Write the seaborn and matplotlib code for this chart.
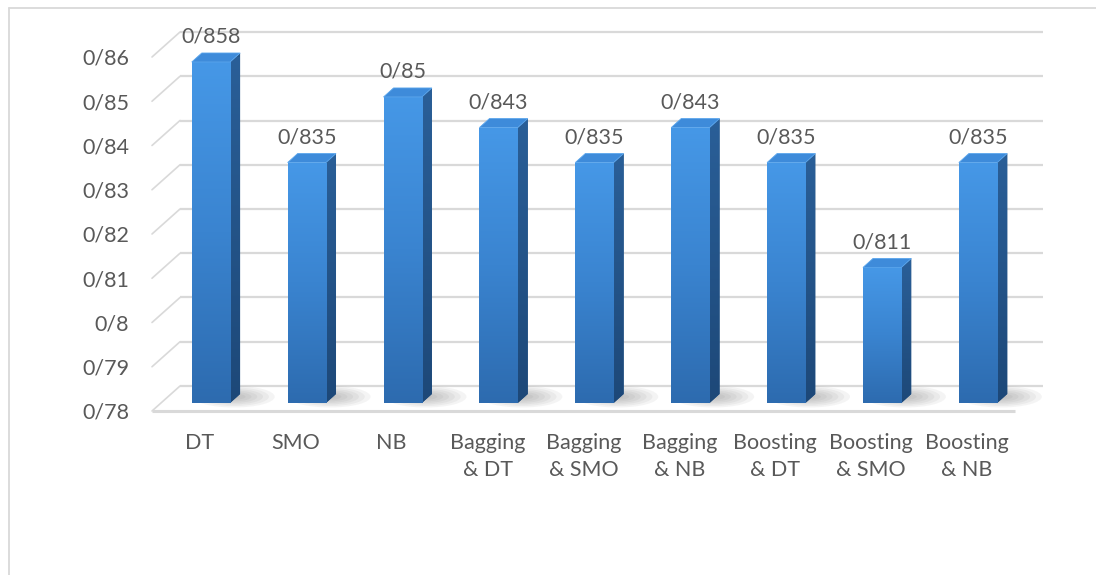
import numpy as np
import matplotlib
matplotlib.use("Agg")
import matplotlib.pyplot as plt
import seaborn as sns
from matplotlib.transforms import Affine2D
from matplotlib.patches import Polygon, Ellipse
from matplotlib.colors import LinearSegmentedColormap
from matplotlib.lines import Line2D

# ---- data ----
categories = ["DT", "SMO", "NB", "Bagging\n& DT", "Bagging\n& SMO", "Bagging\n& NB",
              "Boosting\n& DT", "Boosting\n& SMO", "Boosting\n& NB"]
values = [0.858, 0.835, 0.85, 0.843, 0.835, 0.843, 0.835, 0.811, 0.835]
y_ticks = [0.78, 0.79, 0.80, 0.81, 0.82, 0.83, 0.84, 0.85, 0.86]
y_tick_labels = ["0/78", "0/79", "0/8", "0/81", "0/82", "0/83", "0/84", "0/85", "0/86"]

BASE = 0.78
TEXT = "#595959"
GRID = "#D9D9D9"

sns.set_style("white")
plt.rcParams["font.family"] = ["Lato", "DejaVu Sans"]

W, H = 1096, 575
fig = plt.figure(figsize=(W / 100, H / 100), dpi=100)
fig.patch.set_facecolor("white")
ax = fig.add_axes([152 / W, (H - 411) / H, 863 / W, 354 / H])

sns.barplot(x=categories, y=values, width=0.4, ax=ax, color="#3A85D3",
            saturation=1, edgecolor="none")
ax.set_xlim(-0.5, 8.5)
ax.set_ylim(BASE, 0.86)

px_x = 863 / 9.0          # pixels per category unit
px_y = 354 / 0.08         # pixels per value unit

# bars stand half-way into the floor depth, slightly foreshortened
s_bar = 0.988
bdx, bdy = 11 / px_x, 8 / px_y
bar_trans = (Affine2D().translate(0, -BASE).scale(1, s_bar)
             .translate(bdx, BASE + bdy) + ax.transData)

# depth of the chart box (walls / floor)
ox, oy = 28 / px_x, 25 / px_y
# depth of each column
ddx, ddy = 10 / px_x, 9 / (px_y * s_bar)

x_lo, x_hi = -0.5, 8.5

# floor
floor = Polygon([(x_lo, BASE), (x_hi, BASE), (x_hi + ox, BASE + oy), (x_lo + ox, BASE + oy)],
                closed=True, facecolor="white", edgecolor="none", zorder=0.5,
                clip_on=False)
ax.add_patch(floor)
ax.add_line(Line2D([x_lo, x_hi], [BASE, BASE], color=GRID, lw=2.2, zorder=0.6,
                   clip_on=False, solid_capstyle="butt"))

# back-wall gridlines and left-wall diagonals
for t in y_ticks:
    ax.add_line(Line2D([x_lo + ox, x_hi + ox], [t + oy, t + oy], color=GRID, lw=1.6,
                       zorder=0.7, clip_on=False, solid_capstyle="butt"))
    ax.add_line(Line2D([x_lo, x_lo + ox], [t, t + oy], color=GRID, lw=1.2,
                       zorder=0.7, clip_on=False))

front_cmap = LinearSegmentedColormap.from_list("front", ["#2D6BAF", "#3A84D0", "#4698E7"])
side_cmap = LinearSegmentedColormap.from_list("side", ["#1D4878", "#2A5F98"])
grad = np.linspace(0, 1, 256).reshape(-1, 1)

bars = list(ax.patches)
for p, v in zip(bars, values):
    p.set_y(BASE)
    p.set_height(v - BASE)
    p.set_transform(bar_trans)
    p.set_clip_on(False)
    p.set_zorder(3)
    x0 = p.get_x()
    x1 = x0 + p.get_width()
    top = BASE + p.get_height()

    # soft shadow on the floor, strongest just behind the right edge
    for k in range(7):
        f = 1 - k / 7
        sh = Ellipse((x1 + 0.04, BASE + ddy * 0.7), width=(p.get_width() + 0.45) * f,
                     height=ddy * 2.4 * f, facecolor="#505050", alpha=0.06,
                     edgecolor="none", transform=bar_trans, zorder=1, clip_on=False)
        ax.add_patch(sh)

    # side face
    side = Polygon([(x1, BASE), (x1 + ddx, BASE + ddy), (x1 + ddx, top + ddy), (x1, top)],
                   closed=True, facecolor="#245689", edgecolor="none",
                   transform=bar_trans, zorder=2.8, clip_on=False)
    ax.add_patch(side)
    im_s = ax.imshow(grad, extent=(x1, x1 + ddx, BASE, top + ddy), origin="lower",
                     aspect="auto", cmap=side_cmap, zorder=2.9, interpolation="bilinear")
    im_s.set_transform(bar_trans)
    im_s.set_clip_path(side)

    # top face
    topf = Polygon([(x0, top), (x1, top), (x1 + ddx, top + ddy), (x0 + ddx, top + ddy)],
                   closed=True, facecolor="#3E8BDA", edgecolor="#5AA5EC", lw=0.6,
                   transform=bar_trans, zorder=3.1, clip_on=False)
    ax.add_patch(topf)

    # front face gradient
    im_f = ax.imshow(grad, extent=(x0, x1, BASE, top), origin="lower", aspect="auto",
                     cmap=front_cmap, zorder=3.05, interpolation="bilinear")
    im_f.set_transform(bar_trans)
    im_f.set_clip_path(p)

    # value label
    ax.annotate(f"{v:g}".replace(".", "/"), xy=((x0 + x1) / 2, top), xycoords=bar_trans,
                xytext=(0, 18), textcoords="offset points", ha="center", va="center",
                fontsize=15.5, color=TEXT, annotation_clip=False, zorder=5)

ax.set_xlim(x_lo, x_hi)
ax.set_ylim(BASE, 0.86)

ax.set_yticks(y_ticks)
ax.set_yticklabels(y_tick_labels)
ax.set_xticks(range(len(categories)))
ax.set_xticklabels(categories, linespacing=1.45)
ax.tick_params(axis="y", length=0, pad=16.5, labelsize=15.5, labelcolor=TEXT)
ax.tick_params(axis="x", length=0, pad=16, labelsize=15.5, labelcolor=TEXT)
ax.set_xlabel("")
ax.set_ylabel("")
for sp in ax.spines.values():
    sp.set_visible(False)
ax.set_facecolor("none")
ax.grid(False)

# chart frame
fig.add_artist(Line2D([8.5 / W, 8.5 / W], [0, 1 - 8 / H], color=GRID, lw=1.3,
                      transform=fig.transFigure))
fig.add_artist(Line2D([8.5 / W, 1], [1 - 8 / H, 1 - 8 / H], color=GRID, lw=1.3,
                      transform=fig.transFigure))

fig.savefig("out.png", dpi=100)
